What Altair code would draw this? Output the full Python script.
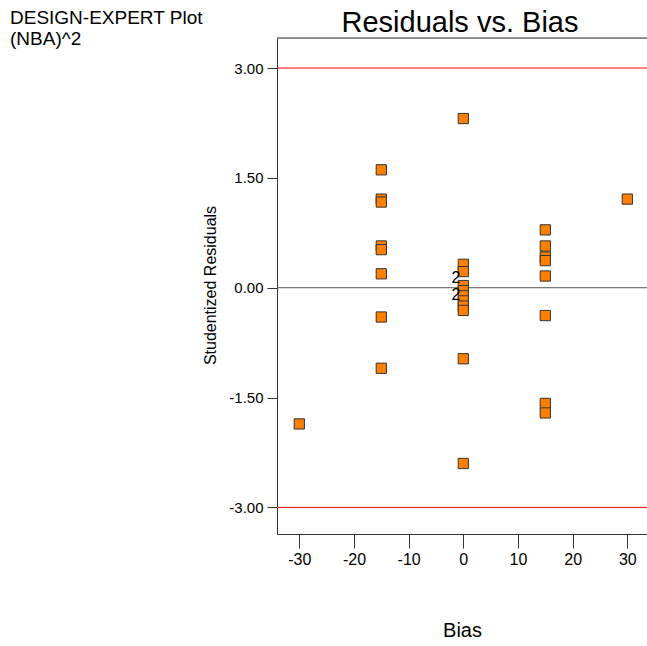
import altair as alt
import pandas as pd

# ---- data ----
bias_levels = [-30, -15, 0, 15, 30]
resid_m30 = [-1.86]
resid_m15 = [1.61, 1.21, 1.17, 0.57, 0.52, 0.19, -0.40, -1.10]
resid_0 = [2.31, 0.32, 0.22, 0.03, -0.04, -0.11, -0.18, -0.25, -0.31, -0.97, -2.40]
resid_15 = [0.79, 0.57, 0.42, 0.37, 0.16, -0.38, -1.58, -1.71]
resid_30 = [1.21]

dup_bias = [0, 0]
dup_resid = [0.13, -0.10]
dup_label = ["2", "2"]

limit_values = [3.0, -3.0]
zero_values = [0.0]

x_ticks = [-30, -20, -10, 0, 10, 20, 30]
y_ticks = [-3.0, -1.5, 0.0, 1.5, 3.0]

title_text = "Residuals vs. Bias"
corner_text = ["DESIGN-EXPERT Plot", "(NBA)^2"]
x_title = "Bias"
y_title = "Studentized Residuals"

FONT = "Liberation Sans"

rows = []
for b, vals in zip(bias_levels, [resid_m30, resid_m15, resid_0, resid_15, resid_30]):
    for v in vals:
        rows.append({"Bias": b, "Resid": v})
df = pd.DataFrame(rows)
dup_df = pd.DataFrame({"Bias": dup_bias, "Resid": dup_resid, "label": dup_label})
lim_df = pd.DataFrame({"Resid": limit_values})
zero_df = pd.DataFrame({"Resid": zero_values})

xscale = alt.Scale(domain=[-34.08, 33.6], nice=False, zero=False)
yscale = alt.Scale(domain=[-3.363, 3.41], nice=False, zero=False)

xaxis = alt.Axis(
    values=x_ticks, tickSize=14, labelPadding=3, labelFontSize=16, labelFont=FONT,
    labelColor="black", labelExpr="replace(datum.label, '\u2212', '-')",
    title=x_title, titleFontSize=20, titleFontWeight="normal", titleFont=FONT,
    titleColor="black", titleX=185, titleY=96, titleBaseline="middle", titleAlign="center",
    domainColor="#333333", tickColor="#333333", grid=False, labelFlush=False,
)
yaxis = alt.Axis(
    values=y_ticks, format=".2f", tickSize=10, labelPadding=4, labelFontSize=15, labelFont=FONT,
    labelColor="black", labelExpr="replace(datum.label, '\u2212', '-')",
    title=y_title, titleFontSize=16, titleFontWeight="normal", titleFont=FONT,
    titleColor="black", titleX=-67, titleY=247, titleAngle=270, titleBaseline="middle",
    titleAlign="center", domainColor="#333333", tickColor="#333333", grid=False, labelFlush=False,
)

x_enc = alt.X("Bias:Q", scale=xscale, axis=xaxis)
y_enc = alt.Y("Resid:Q", scale=yscale, axis=yaxis)

limits = alt.Chart(lim_df).mark_rule(color="#ff0000", strokeWidth=1).encode(y=y_enc)
zero = alt.Chart(zero_df).mark_rule(color="#555555", strokeWidth=1).encode(y=y_enc)
top_border = alt.Chart(zero_df).mark_rule(color="#333333", strokeWidth=1).encode(y=alt.value(0))

points = alt.Chart(df).mark_square(
    size=105, filled=True, color="#ff8000", stroke="#333333", strokeWidth=1, opacity=1
).encode(x=x_enc, y=y_enc)

dups = alt.Chart(dup_df).mark_text(
    align="right", baseline="middle", dx=-3, fontSize=16, font=FONT, color="black"
).encode(x=x_enc, y=y_enc, text="label:N")

title = alt.Chart(zero_df).mark_text(
    text=title_text, fontSize=29, font=FONT, align="center", baseline="alphabetic", color="black"
).encode(x=alt.value(183), y=alt.value(-6))

corner = alt.Chart(zero_df).mark_text(
    text=corner_text, fontSize=19, font=FONT, align="left", baseline="alphabetic",
    lineHeight=21, color="black"
).encode(x=alt.value(-267), y=alt.value(-14))

chart = alt.layer(limits, zero, top_border, points, dups, title, corner).properties(
    width=370,
    height=496,
    autosize=alt.AutoSizeParams(type="none"),
    padding={"left": 277, "top": 38, "right": 0, "bottom": 112},
).configure_view(stroke=None).configure(background="white")

chart.save("out.html", embed_options={"renderer": "svg", "actions": False})
